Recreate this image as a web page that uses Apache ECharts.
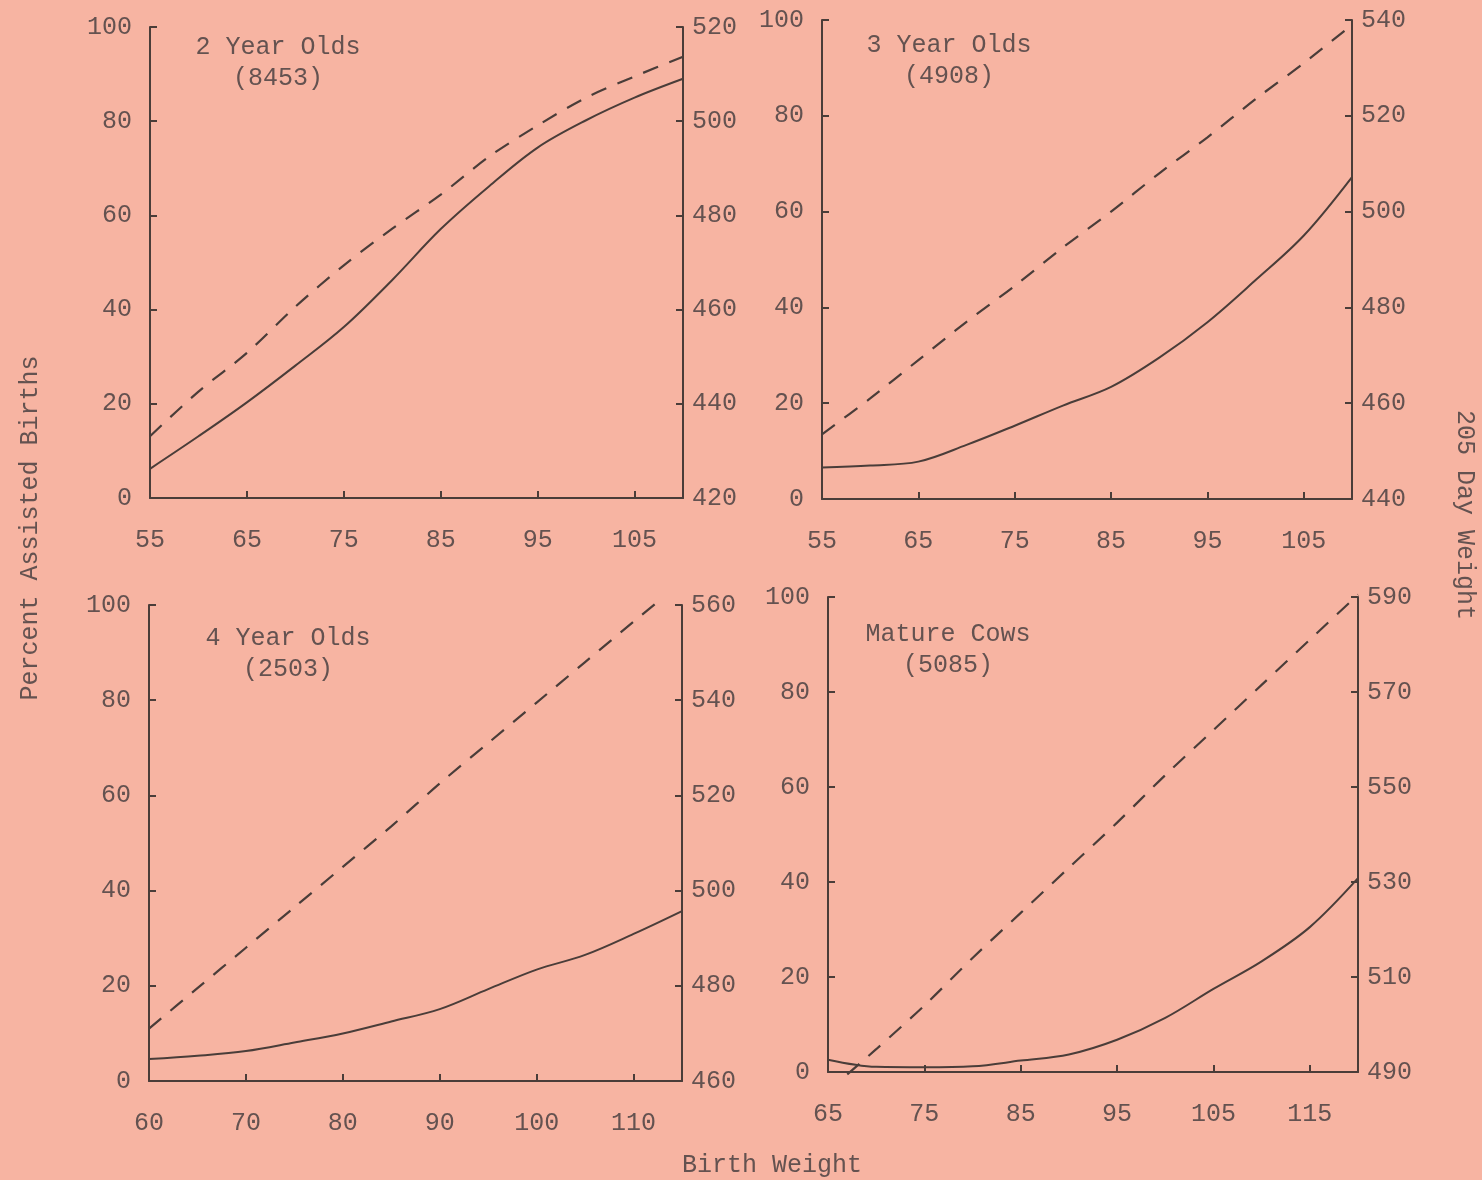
<!DOCTYPE html>
<html><head><meta charset="utf-8">
<script src="https://cdn.jsdelivr.net/npm/echarts@6/dist/echarts.min.js"></script>
<style>html,body{margin:0;padding:0;background:#f7b4a2;} #chart{width:1482px;height:1180px;}</style>
</head><body><div id="chart"></div>
<script>
// ---- data ----
const panelTitles = ['2 Year Olds', '3 Year Olds', '4 Year Olds', 'Mature Cows'];
const panelCounts = ['(8453)', '(4908)', '(2503)', '(5085)'];

const birthWt2yr = [55, 60, 65, 70, 75, 80, 85, 90, 95, 100, 105, 110];
const assisted2yr = [6.2, 13.1, 20.3, 28.1, 36.3, 46.3, 57.1, 66.2, 74.4, 80.2, 85.0, 89.0];
const weanWt2yr = [433.1, 442.6, 450.8, 460.6, 469.4, 477.2, 484.4, 492.5, 499.1, 505.0, 509.5, 513.7];

const birthWt3yr = [55, 60, 65, 70, 75, 80, 85, 90, 95, 100, 105, 110];
const assisted3yr = [6.6, 7.0, 7.8, 11.3, 15.3, 19.5, 23.4, 29.5, 36.9, 45.7, 55.0, 67.2];
const weanWt3yr = [453.5, 461, 469, 477, 484.5, 492.5, 500, 508, 515.5, 523.5, 531, 539];

const birthWt4yr = [60, 65, 70, 75, 80, 85, 90, 95, 100, 105, 110, 115];
const assisted4yr = [4.6, 5.3, 6.3, 8.1, 10.0, 12.5, 15.1, 19.3, 23.4, 26.5, 30.9, 35.7];
const birthWt4yrWean = [60, 65, 70, 75, 80, 85, 90, 95, 100, 105, 110, 113];
const weanWt4yr = [471, 479.5, 488, 496.5, 505, 513.5, 522.5, 531, 539.5, 548, 556.5, 561.5];

const birthWtMature = [65, 70, 75, 80, 85, 90, 95, 100, 105, 110, 115, 120];
const assistedMature = [2.6, 1.1, 1.0, 1.2, 2.4, 3.7, 6.8, 11.4, 17.5, 23.3, 30.5, 40.8];
const birthWtMatureWean = [67, 70, 75, 80, 85, 90, 95, 100, 105, 110, 115, 120];
const weanWtMature = [489.5, 494.8, 504, 514, 523.5, 533, 542.5, 552.5, 562, 571.5, 581, 590.5];

const xRanges = [[55, 110], [55, 110], [60, 115], [65, 120]];
const rightRanges = [[420, 520], [440, 540], [460, 560], [490, 590]];

const leftAxisTitle = 'Percent Assisted Births';
const rightAxisTitle = '205 Day Weight';
const xAxisTitle = 'Birth Weight';

// ---- styling ----
const INK = '#4a3d39';
const TXT = '#645250';
const FONT = '"Liberation Mono", "DejaVu Sans Mono", monospace';

const grids = [
  { left: 150, top: 27, width: 533, height: 471 },
  { left: 822, top: 20, width: 530, height: 479 },
  { left: 149, top: 605, width: 533, height: 476 },
  { left: 828, top: 597, width: 530, height: 475 }
];

const pairs = (xs, ys) => xs.map((x, i) => [x, ys[i]]);
const solidData = [pairs(birthWt2yr, assisted2yr), pairs(birthWt3yr, assisted3yr), pairs(birthWt4yr, assisted4yr), pairs(birthWtMature, assistedMature)];
const dashData = [pairs(birthWt2yr, weanWt2yr), pairs(birthWt3yr, weanWt3yr), pairs(birthWt4yrWean, weanWt4yr), pairs(birthWtMatureWean, weanWtMature)];

const axisLine = { show: true, onZero: false, lineStyle: { color: INK, width: 2 } };
const axisTick = { show: true, inside: true, length: 7, lineStyle: { color: INK, width: 2 } };
const labelStyle = { color: TXT, fontFamily: FONT, fontSize: 25 };

const xAxes = [], yAxes = [], series = [];
grids.forEach((g, i) => {
  xAxes.push({
    type: 'value', gridIndex: i, min: xRanges[i][0], max: xRanges[i][1], interval: 10,
    axisLine, axisTick, splitLine: { show: false },
    axisLabel: Object.assign({ margin: 30, showMaxLabel: false }, labelStyle)
  });
  yAxes.push({
    type: 'value', gridIndex: i, position: 'left', min: 0, max: 100, interval: 20,
    axisLine, axisTick, splitLine: { show: false },
    axisLabel: Object.assign({ margin: 18 }, labelStyle)
  });
  yAxes.push({
    type: 'value', gridIndex: i, position: 'right', min: rightRanges[i][0], max: rightRanges[i][1], interval: 20,
    axisLine, axisTick, splitLine: { show: false },
    axisLabel: Object.assign({ margin: 9 }, labelStyle)
  });
  series.push({
    type: 'line', xAxisIndex: i, yAxisIndex: 2 * i, data: solidData[i], smooth: 0.35,
    symbol: 'none', lineStyle: { color: INK, width: 2 }, clip: false, silent: true
  });
  series.push({
    type: 'line', xAxisIndex: i, yAxisIndex: 2 * i + 1, data: dashData[i], smooth: 0.3,
    symbol: 'none', lineStyle: { color: INK, width: 2.2, type: [16, 12] }, clip: false, silent: true
  });
});

const titlePos = [[278, 32], [949, 30], [288, 623], [948, 619]];
const graphic = titlePos.map((p, i) => ({
  type: 'text', x: p[0], y: p[1],
  style: { text: panelTitles[i] + '\n' + panelCounts[i], align: 'center', verticalAlign: 'top',
           font: '25px ' + FONT, fill: TXT, lineHeight: 31 }
}));
graphic.push({ type: 'text', x: 30, y: 528, rotation: Math.PI / 2,
  style: { text: leftAxisTitle, align: 'center', verticalAlign: 'middle', font: '25px ' + FONT, fill: TXT } });
graphic.push({ type: 'text', x: 1465, y: 515, rotation: -Math.PI / 2,
  style: { text: rightAxisTitle, align: 'center', verticalAlign: 'middle', font: '25px ' + FONT, fill: TXT } });
graphic.push({ type: 'text', x: 772, y: 1165,
  style: { text: xAxisTitle, align: 'center', verticalAlign: 'middle', font: '25px ' + FONT, fill: TXT } });

const chart = echarts.init(document.getElementById('chart'), null, { renderer: 'canvas' });
chart.setOption({
  backgroundColor: '#f7b4a2',
  animation: false,
  grid: grids,
  xAxis: xAxes,
  yAxis: yAxes,
  series,
  graphic
});
</script></body></html>
